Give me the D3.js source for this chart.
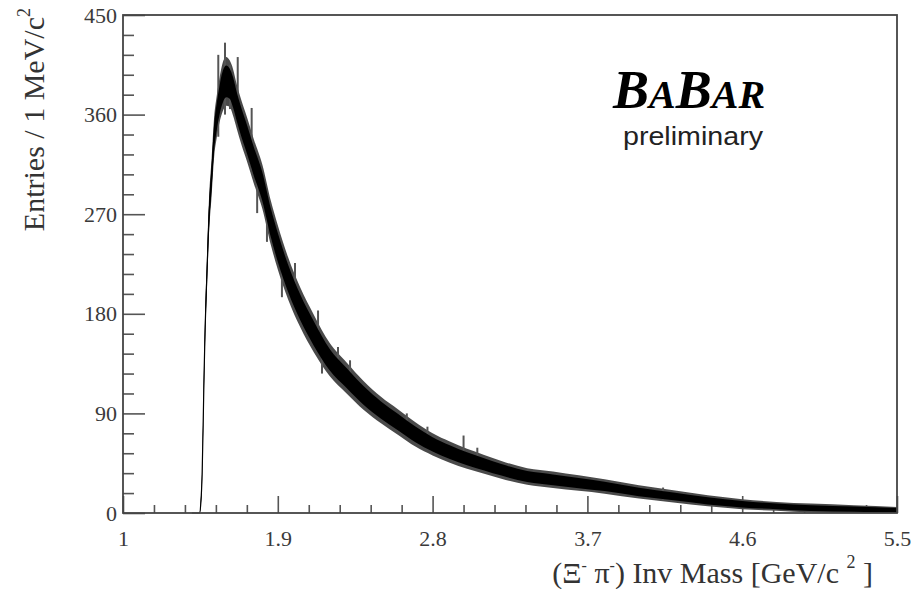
<!DOCTYPE html>
<html>
<head>
<meta charset="utf-8">
<script src="https://cdn.jsdelivr.net/npm/d3@7"></script>
<style>
  body { margin: 0; background: #fff; }
  svg { display: block; }
</style>
</head>
<body>
<div id="vis"></div>
<script>
// histogram: bin centre (GeV/c^2), entries, visible half-width of the band
const mass = [1.40, 1.445, 1.452, 1.460, 1.466, 1.472, 1.478, 1.487, 1.500, 1.515,
  1.530, 1.545, 1.560, 1.580, 1.600, 1.620, 1.640, 1.660, 1.690, 1.720,
  1.760, 1.810, 1.860, 1.900, 1.960, 2.030, 2.110, 2.200, 2.300, 2.400,
  2.500, 2.600, 2.700, 2.800, 2.900, 3.000, 3.100, 3.200, 3.350, 3.500,
  3.650, 3.800, 4.000, 4.200, 4.400, 4.600, 4.800, 5.000, 5.250, 5.500];
const entries = [0, 0, 8, 35, 80, 130, 170, 212, 268, 303,
  340, 358, 372, 385, 390, 388, 380, 368, 352, 338,
  318, 295, 262, 240, 212, 186, 162, 139, 122, 106,
  93, 82, 71, 62, 55, 49, 44, 39, 33, 30,
  27, 24, 19, 15, 11, 8, 6, 4.5, 3.5, 2.5];
const errors = [0, 0, 3, 6, 9, 11, 13, 14, 16, 17,
  18, 19, 20, 22, 22, 21, 21, 20, 20, 20,
  20, 20, 20, 20, 19, 18, 17, 15, 14, 13,
  12, 11.5, 11, 10, 9.5, 9, 8.5, 8, 7.5, 7.5,
  7, 6.5, 6, 5.5, 5, 4.5, 4, 4, 3.5, 3];

// single tall fluctuations that stick out of the band
const spikeMass = [1.554, 1.593, 1.622, 1.667, 1.748, 1.78, 1.837, 1.924, 2.0, 2.134,
  2.157, 2.25, 2.32, 2.65, 2.77, 2.98, 3.06, 4.14];
const spikeLow = [340, 360, 365, 355, 310, 271, 245, 195, 190, 150,
  126, 125, 112, 72, 60, 48, 42, 12];
const spikeHigh = [414, 425, 405, 412, 366, 300, 280, 225, 226, 183,
  150, 150, 138, 90, 78, 70, 59, 23];

const xMajor = [1, 1.9, 2.8, 3.7, 4.6, 5.5];
const yMajor = [0, 90, 180, 270, 360, 450];

const W = 914, H = 589;
const plotLeft = 123, plotRight = 897, plotTop = 15, plotBottom = 513;

const svg = d3.select('#vis')
  .append('svg')
  .attr('width', W)
  .attr('height', H);

const x = d3.scaleLinear().domain([1, 5.5]).range([plotLeft, plotRight]);
const y = d3.scaleLinear().domain([0, 450]).range([plotBottom, plotTop]);

const pts = mass.map((m, i) => ({ m: m, n: entries[i], e: errors[i] }));

// minor ticks: 5 subdivisions between majors
const xMinor = [];
for (let i = 0; i < xMajor.length - 1; i++) {
  const step = (xMajor[i + 1] - xMajor[i]) / 5;
  for (let k = 1; k < 5; k++) xMinor.push(xMajor[i] + k * step);
}
const yMinor = [];
for (let i = 0; i < yMajor.length - 1; i++) {
  const step = (yMajor[i + 1] - yMajor[i]) / 5;
  for (let k = 1; k < 5; k++) yMinor.push(yMajor[i] + k * step);
}

const tickFont = '"Liberation Serif", "Times New Roman", serif';

// x axis
svg.append('g')
  .attr('transform', `translate(0,${plotBottom})`)
  .call(d3.axisBottom(x).tickValues(xMinor).tickSize(-8).tickFormat(''))
  .call(g => g.select('.domain').remove());
svg.append('g')
  .attr('class', 'xaxis')
  .attr('transform', `translate(0,${plotBottom})`)
  .call(d3.axisBottom(x).tickValues(xMajor).tickSize(-17).tickPadding(17)
    .tickFormat(d => d3.format('.1~f')(d)))
  .call(g => g.select('.domain').remove());

// y axis
svg.append('g')
  .attr('transform', `translate(${plotLeft},0)`)
  .call(d3.axisLeft(y).tickValues(yMinor).tickSize(-11).tickFormat(''))
  .call(g => g.select('.domain').remove());
svg.append('g')
  .attr('class', 'yaxis')
  .attr('transform', `translate(${plotLeft},0)`)
  .call(d3.axisLeft(y).tickValues(yMajor).tickSize(-22).tickPadding(6))
  .call(g => g.select('.domain').remove());

svg.selectAll('.tick line')
  .attr('stroke', '#555')
  .attr('stroke-width', 1.6);
svg.selectAll('.tick text')
  .attr('font-family', tickFont)
  .attr('font-size', 22)
  .attr('fill', '#3a3a3a');

// data band
const outer = d3.area()
  .x(d => x(d.m))
  .y0(d => y(Math.max(0, d.n - d.e)))
  .y1(d => y(d.n + d.e))
  .curve(d3.curveMonotoneX);
const inner = d3.area()
  .x(d => x(d.m))
  .y0(d => y(Math.max(0, d.n - d.e * 0.65)))
  .y1(d => y(d.n + d.e * 0.65))
  .curve(d3.curveMonotoneX);

svg.append('path')
  .datum(pts)
  .attr('d', outer)
  .attr('fill', '#4a4a4a');

svg.selectAll('.spike')
  .data(spikeMass)
  .enter()
  .append('line')
  .attr('class', 'spike')
  .attr('x1', d => x(d))
  .attr('x2', d => x(d))
  .attr('y1', (d, i) => y(spikeLow[i]))
  .attr('y2', (d, i) => y(spikeHigh[i]))
  .attr('stroke', '#555')
  .attr('stroke-width', 2);

svg.append('path')
  .datum(pts)
  .attr('d', inner)
  .attr('fill', '#000');

svg.append('path')
  .datum(pts)
  .attr('d', d3.line().x(d => x(d.m)).y(d => y(d.n)).curve(d3.curveMonotoneX))
  .attr('fill', 'none')
  .attr('stroke', '#000')
  .attr('stroke-width', 1.2);

// frame
svg.append('rect')
  .attr('x', plotLeft)
  .attr('y', plotTop)
  .attr('width', plotRight - plotLeft)
  .attr('height', plotBottom - plotTop)
  .attr('fill', 'none')
  .attr('stroke', '#444')
  .attr('stroke-width', 1.8);

// axis titles
const xt = svg.append('text')
  .attr('x', 873)
  .attr('y', 583)
  .attr('text-anchor', 'end')
  .attr('font-family', tickFont)
  .attr('font-size', 30)
  .attr('fill', '#333');
xt.append('tspan').text('(Ξ');
xt.append('tspan').attr('dy', -12).attr('font-size', 16).text('-');
xt.append('tspan').attr('dy', 12).text(' π');
xt.append('tspan').attr('dy', -12).attr('font-size', 16).text('-');
xt.append('tspan').attr('dy', 12).text(') Inv Mass [GeV/c ');
xt.append('tspan').attr('dy', -15).attr('font-size', 18).text('2');
xt.append('tspan').attr('dy', 15).text(' ]');

const yt = svg.append('text')
  .attr('transform', 'translate(44,8) rotate(-90)')
  .attr('text-anchor', 'end')
  .attr('font-family', tickFont)
  .attr('font-size', 30)
  .attr('fill', '#333');
yt.append('tspan').text('Entries / 1 MeV/c');
yt.append('tspan').attr('dy', -14).attr('font-size', 18).text('2');

// BaBar logo
const logo = svg.append('text')
  .attr('x', 613)
  .attr('y', 108)
  .attr('font-family', tickFont)
  .attr('font-weight', 'bold')
  .attr('font-style', 'italic')
  .attr('fill', '#000');
logo.append('tspan').attr('font-size', 54).text('B');
logo.append('tspan').attr('font-size', 40).text('A');
logo.append('tspan').attr('font-size', 54).text('B');
logo.append('tspan').attr('font-size', 40).text('AR');

svg.append('text')
  .attr('x', 623)
  .attr('y', 145)
  .attr('font-family', '"Liberation Sans", Arial, sans-serif')
  .attr('font-size', 26)
  .attr('textLength', 140)
  .attr('lengthAdjust', 'spacingAndGlyphs')
  .attr('fill', '#222')
  .text('preliminary');
</script>
</body>
</html>
